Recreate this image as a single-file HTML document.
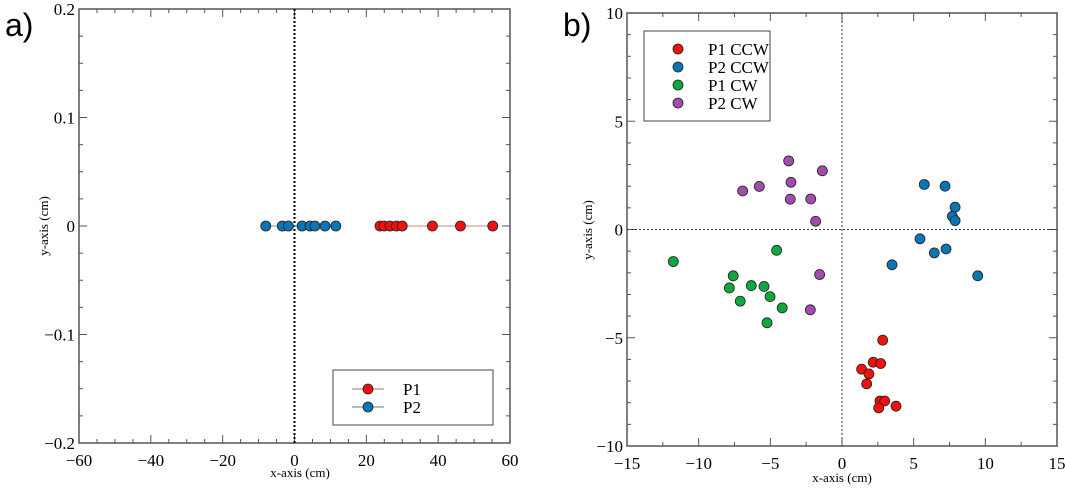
<!DOCTYPE html>
<html><head><meta charset="utf-8"><style>
body{margin:0;background:#fff;width:1065px;height:491px;overflow:hidden}
svg text{font-family:"Liberation Serif",serif}
</style></head><body>
<svg id="s" width="1065" height="491" xmlns="http://www.w3.org/2000/svg"></svg>
<script>
// Panel a data
const aP1x=[23.8,24.9,26.6,28.4,30.0,38.4,46.2,55.2];
const aP2x=[-8.0,-3.4,-1.7,2.1,4.3,5.7,8.5,11.5];
const aXTicks=[-60,-40,-20,0,20,40,60];
const aYTicks=[-0.2,-0.1,0,0.1,0.2];
// Panel b data
const bP1CCWx=[2.84,2.18,2.70,1.37,1.88,1.72,2.65,2.98,2.56,3.77];
const bP1CCWy=[-5.11,-6.13,-6.19,-6.45,-6.67,-7.13,-7.92,-7.92,-8.24,-8.16];
const bP2CCWx=[5.74,7.19,7.89,7.70,7.89,5.44,6.44,7.26,3.49,9.47];
const bP2CCWy=[2.08,2.00,1.03,0.61,0.41,-0.43,-1.08,-0.90,-1.63,-2.14];
const bP1CWx=[-11.77,-4.56,-7.59,-7.86,-6.33,-5.44,-5.02,-7.10,-4.17,-5.23];
const bP1CWy=[-1.48,-0.96,-2.14,-2.70,-2.59,-2.63,-3.10,-3.31,-3.62,-4.31];
const bP2CWx=[-3.72,-1.37,-6.93,-5.77,-3.56,-3.61,-2.18,-1.84,-1.56,-2.21];
const bP2CWy=[3.17,2.71,1.78,1.99,2.18,1.40,1.41,0.38,-2.08,-3.71];
const bXTicks=[-15,-10,-5,0,5,10,15];
const bYTicks=[-10,-5,0,5,10];

const S=document.getElementById('s');const NS='http://www.w3.org/2000/svg';
function mk(t,a,txt){const e=document.createElementNS(NS,t);for(const k in a)e.setAttribute(k,a[k]);if(txt!==undefined)e.textContent=txt;S.appendChild(e);return e;}
function axes(L,R,T,B,x0,x1,y0,y1,xMinor,yMinor,xt,yt,fmtY,nm){
 const sx=v=>L+(v-x0)/(x1-x0)*(R-L), sy=v=>B-(v-y0)/(y1-y0)*(B-T);
 let r=mk('rect',{x:L,y:T,width:R-L,height:B-T,fill:'none',stroke:'#555','stroke-width':1.5});
 
 for(let v=x0;v<=x1+1e-9;v+=xMinor){const X=sx(v);const maj=xt.some(t=>Math.abs(t-v)<1e-9);const len=maj?8:4;
  mk('line',{x1:X,y1:B,x2:X,y2:B-len,stroke:'#555'});mk('line',{x1:X,y1:T,x2:X,y2:T+len,stroke:'#555'});}
 for(let v=y0;v<=y1+1e-9;v+=yMinor){const Y=sy(v);const maj=yt.some(t=>Math.abs(t-v)<1e-9);const len=maj?8:4;
  mk('line',{x1:L,y1:Y,x2:L+len,y2:Y,stroke:'#555'});mk('line',{x1:R,y1:Y,x2:R-len,y2:Y,stroke:'#555'});}
 xt.forEach(v=>{const t=mk('text',{x:sx(v),y:B+23,'font-size':17,'text-anchor':'middle'},(v<0?'\u2212'+(-v):''+v));
  });
 yt.forEach(v=>{const t=mk('text',{x:L-4,y:sy(v)+6,'font-size':17,'text-anchor':'end'},fmtY(v));
  });
 return {sx,sy};
}
function dot(x,y,c,nm){const e=mk('circle',{cx:x,cy:y,r:5,fill:c,stroke:'#222','stroke-width':0.8});
 }

// Panel a
const A=axes(79,510,9,443,-60,60,-0.2,0.2,5,0.025,aXTicks,aYTicks,v=>v<0?'\u2212'+(-v):''+v,'panel-a');
mk('line',{x1:A.sx(0),y1:9,x2:A.sx(0),y2:443,stroke:'#000','stroke-width':2,'stroke-dasharray':'2,2'});
mk('line',{x1:A.sx(Math.min(...aP1x)),y1:A.sy(0),x2:A.sx(Math.max(...aP1x)),y2:A.sy(0),stroke:'#d99','stroke-width':1.2});
mk('line',{x1:A.sx(Math.min(...aP2x)),y1:A.sy(0),x2:A.sx(Math.max(...aP2x)),y2:A.sy(0),stroke:'#8ab','stroke-width':1.2});
aP2x.forEach(v=>dot(A.sx(v),A.sy(0),'#0a74b4','p2-point'));
aP1x.forEach(v=>dot(A.sx(v),A.sy(0),'#f01010','p1-point'));
let t;
t=mk('text',{x:5,y:36,'font-size':32,style:'font-family:"Liberation Sans",sans-serif'},'a)');
t=mk('text',{x:300,y:477,'font-size':13,'text-anchor':'middle'},'x-axis (cm)');
t=mk('text',{x:0,y:0,'font-size':13,'text-anchor':'middle',transform:'translate(48,226) rotate(-90)'},'y-axis (cm)');
t=mk('rect',{x:333,y:370,width:160,height:55,fill:'#fff',stroke:'#444'});
mk('line',{x1:352,y1:389,x2:384,y2:389,stroke:'#c88','stroke-width':1.2});dot(368,389,'#f01010','legend-p1-marker');
mk('line',{x1:352,y1:407,x2:384,y2:407,stroke:'#79a','stroke-width':1.2});dot(368,407,'#0a74b4','legend-p2-marker');
t=mk('text',{x:403,y:395,'font-size':17},'P1');
t=mk('text',{x:403,y:413,'font-size':17},'P2');

// Panel b
const Bx=axes(627,1057,13,446,-15,15,-10,10,2.5,1,bXTicks,bYTicks,v=>v<0?'\u2212'+(-v):''+v,'panel-b');
mk('line',{x1:Bx.sx(0),y1:13,x2:Bx.sx(0),y2:446,stroke:'#333','stroke-width':1,'stroke-dasharray':'2,2'});
mk('line',{x1:627,y1:Bx.sy(0),x2:1057,y2:Bx.sy(0),stroke:'#333','stroke-width':1,'stroke-dasharray':'2,2'});
bP2CWx.forEach((v,i)=>dot(Bx.sx(v),Bx.sy(bP2CWy[i]),'#a24dab','p2-cw-point'));
bP1CWx.forEach((v,i)=>dot(Bx.sx(v),Bx.sy(bP1CWy[i]),'#10a83c','p1-cw-point'));
bP2CCWx.forEach((v,i)=>dot(Bx.sx(v),Bx.sy(bP2CCWy[i]),'#0a74b4','p2-ccw-point'));
bP1CCWx.forEach((v,i)=>dot(Bx.sx(v),Bx.sy(bP1CCWy[i]),'#f01010','p1-ccw-point'));
t=mk('text',{x:563,y:36,'font-size':32,style:'font-family:"Liberation Sans",sans-serif'},'b)');
t=mk('text',{x:842,y:482,'font-size':13,'text-anchor':'middle'},'x-axis (cm)');
t=mk('text',{x:0,y:0,'font-size':13,'text-anchor':'middle',transform:'translate(592,230) rotate(-90)'},'y-axis (cm)');
t=mk('rect',{x:644,y:31,width:126,height:90,fill:'#fff',stroke:'#444'});
[['P1 CCW','#f01010'],['P2 CCW','#0a74b4'],['P1 CW','#10a83c'],['P2 CW','#a24dab']].forEach((d,i)=>{
 dot(678,49+i*18,d[1],'legend-marker');
 const e=mk('text',{x:708,y:55+i*18,'font-size':17},d[0]);
 
 
});
</script>
</body></html>
